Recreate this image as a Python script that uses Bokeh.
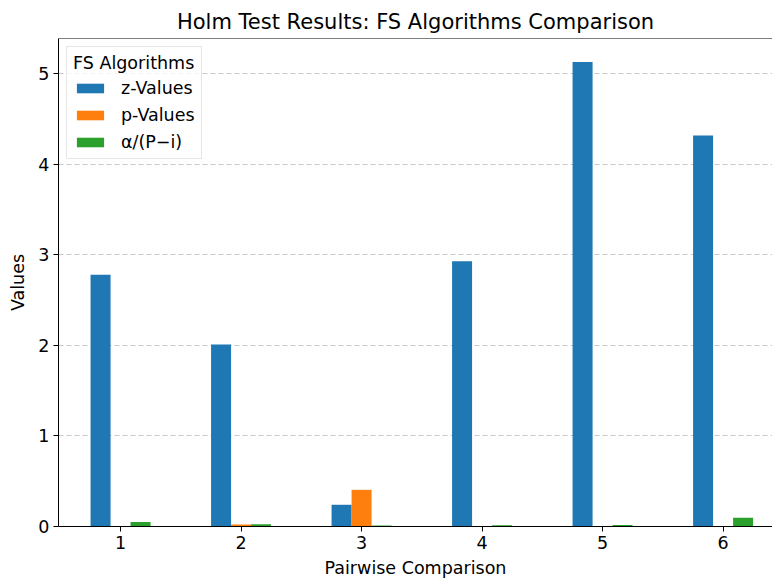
from bokeh.plotting import figure
from bokeh.models import ColumnDataSource, FixedTicker, Span, Legend, LegendItem
from bokeh.transform import dodge
from bokeh.embed import file_html
from bokeh.resources import INLINE

comparisons = [1, 2, 3, 4, 5, 6]
z_values = [2.78, 2.01, 0.24, 2.93, 5.13, 4.32]
p_values = [0.0027, 0.022, 0.405, 0.0017, 0.0001, 0.0001]
alpha_values = [0.05, 0.025, 0.012, 0.014, 0.017, 0.096]
series_names = ["z-Values", "p-Values", "α/(P−i)"]
colors = ["#1f77b4", "#ff7f0e", "#2ca02c"]

src = ColumnDataSource(dict(x=comparisons, z=z_values, p=p_values, a=alpha_values))

FONT = "DejaVu Sans"
W = 0.166

p = figure(frame_width=714, frame_height=488,
           x_range=(0.485, 6.41), y_range=(0, 5.39),
           output_backend="svg", toolbar_location=None,
           min_border_left=58, min_border_right=0, min_border_top=38, min_border_bottom=55,
           title="Holm Test Results: FS Algorithms Comparison")
p.outline_line_color = None
p.background_fill_color = "white"

renderers = []
for col, off, c in zip(["z", "p", "a"], [-W, 0, W], colors):
    r = p.vbar(x=dodge("x", off), top=col, width=W, bottom=0, source=src,
               fill_color=c, line_color=None)
    renderers.append(r)

# top spine
p.add_layout(Span(location=5.39, dimension="width", line_color="black", line_width=1))

p.title.text_font = FONT
p.title.text_font_size = "21px"
p.title.text_font_style = "normal"
p.title.align = "center"
p.title.offset = 6
p.title.text_color = "black"

for ax in (p.xaxis[0], p.yaxis[0]):
    ax.axis_line_color = "black"
    ax.axis_line_width = 1
    ax.major_tick_line_color = "black"
    ax.major_tick_in = 0
    ax.major_tick_out = 5
    ax.minor_tick_line_color = None
    ax.major_label_text_font = FONT
    ax.major_label_text_font_size = "17.5px"
    ax.major_label_text_color = "black"
    ax.axis_label_text_font = FONT
    ax.axis_label_text_font_size = "17.5px"
    ax.axis_label_text_font_style = "normal"
    ax.axis_label_text_color = "black"

p.xaxis[0].major_label_standoff = 4
p.yaxis[0].major_label_standoff = 4
p.xaxis[0].ticker = FixedTicker(ticks=comparisons)
p.yaxis[0].ticker = FixedTicker(ticks=[0, 1, 2, 3, 4, 5])
p.xaxis[0].axis_label = "Pairwise Comparison"
p.yaxis[0].axis_label = "Values"
p.xaxis[0].axis_label_standoff = 6
p.yaxis[0].axis_label_standoff = 7

p.xgrid.visible = False
p.ygrid.grid_line_color = "#b0b0b0"
p.ygrid.grid_line_alpha = 0.7
p.ygrid.grid_line_dash = "5 3"
p.ygrid.grid_line_width = 1

legend = Legend(items=[LegendItem(label=n, renderers=[r]) for n, r in zip(series_names, renderers)],
                location="top_left", title="FS Algorithms")
legend.margin = 8
legend.padding = 6
legend.spacing = 7
legend.glyph_width = 34
legend.glyph_height = 12
legend.label_standoff = 14
legend.label_text_font = FONT
legend.label_text_font_size = "17.5px"
legend.label_text_color = "black"
legend.title_text_font = FONT
legend.title_text_font_size = "17.5px"
legend.title_text_font_style = "normal"
legend.title_text_color = "black"
legend.title_standoff = 5
legend.border_line_color = "#cccccc"
legend.background_fill_alpha = 0.8
p.add_layout(legend)

open("out.html", "w").write(file_html(p, INLINE))
